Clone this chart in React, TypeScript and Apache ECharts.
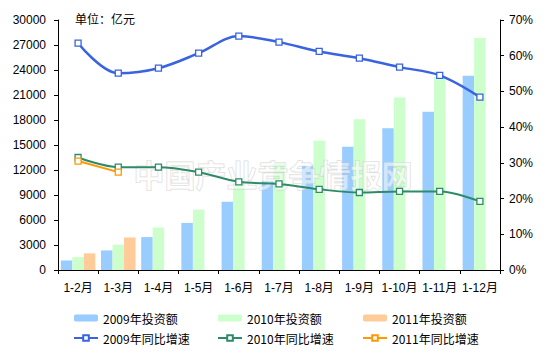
import React, { useEffect, useRef } from "react";
import * as echarts from "echarts";

const categories = ["1-2月", "1-3月", "1-4月", "1-5月", "1-6月", "1-7月", "1-8月", "1-9月", "1-10月", "1-11月", "1-12月"];
const invest2009 = [1150, 2350, 3950, 5650, 8200, 10700, 12500, 14800, 17000, 19000, 23300];
const invest2010 = [1550, 3050, 5100, 7250, 10400, 12800, 15500, 18100, 20700, 23200, 27850];
const invest2011: (number | null)[] = [2000, 3900, null, null, null, null, null, null, null, null, null];
const growth2009 = [63.5, 55.1, 56.5, 60.7, 65.5, 63.8, 61.2, 59.3, 56.8, 54.5, 48.4];
const growth2010 = [31.5, 28.8, 28.8, 27.4, 24.7, 24.1, 22.6, 21.7, 22.0, 22.0, 19.2];
const growth2011: (number | null)[] = [30.5, 27.4, null, null, null, null, null, null, null, null, null];
const leftTicks = { min: 0, max: 30000, interval: 3000 };
const rightTicks = { min: 0, max: 70, interval: 10 };

const FONT = "Liberation Sans, Arial, Noto Sans CJK SC, sans-serif";
const CJK = "Noto Sans CJK SC, sans-serif";

export default function App() {
  const ref = useRef<HTMLDivElement>(null);
  useEffect(() => {
    if (!ref.current) return;
    const chart = echarts.init(ref.current, undefined, { renderer: "svg" });
    const lineSeries = (name: string, data: (number | null)[], color: string, width: number) => ({
      name,
      type: "line",
      yAxisIndex: 1,
      data,
      smooth: 0.35,
      symbol: "rect",
      symbolSize: 6,
      showSymbol: true,
      z: 5,
      lineStyle: { color, width },
      itemStyle: { color: "#ffffff", borderColor: color, borderWidth: 1.3 },
    });
    const legendBase = {
      top: 312,
      orient: "vertical",
      padding: 0,
      itemGap: 8,
      itemWidth: 24,
      itemHeight: 7,
      textStyle: { fontSize: 12, color: "#000", fontFamily: CJK },
    };
    chart.setOption({
      animation: false,
      backgroundColor: "#ffffff",
      title: {
        text: "单位：亿元",
        left: 70,
        top: 7,
        textStyle: { fontSize: 12, fontWeight: "normal", color: "#000", fontFamily: CJK },
      },
      graphic: [
        {
          type: "text",
          left: 133,
          top: 157,
          z: 3,
          style: {
            text: "中国产业竞争情报网",
            fontSize: 31,
            fontWeight: "bold",
            fill: "rgba(255,255,255,0.55)",
            stroke: "rgba(190,190,190,0.55)",
            lineWidth: 1,
            fontFamily: CJK,
          },
        },
      ],
      legend: [
        { ...legendBase, left: 73, data: ["2009年投资额", "2009年同比增速"] },
        { ...legendBase, left: 217, data: ["2010年投资额", "2010年同比增速"] },
        { ...legendBase, left: 362, data: ["2011年投资额", "2011年同比增速"] },
      ],
      grid: { left: 58, right: 46, top: 20, bottom: 83 },
      xAxis: {
        type: "category",
        data: categories,
        boundaryGap: true,
        axisLine: { lineStyle: { color: "#000", width: 1 } },
        axisTick: { show: true, length: 4, lineStyle: { color: "#000" } },
        axisLabel: { color: "#000", fontSize: 12, fontFamily: FONT, margin: 12, interval: 0 },
      },
      yAxis: [
        {
          type: "value",
          ...leftTicks,
          position: "left",
          splitLine: { show: false },
          axisLine: { show: true, lineStyle: { color: "#000", width: 1 } },
          axisTick: { show: true, length: 4, lineStyle: { color: "#000" } },
          axisLabel: {
            color: "#000",
            fontSize: 12,
            fontFamily: FONT,
            margin: 12,
            formatter: (v: number) => String(v),
          },
        },
        {
          type: "value",
          ...rightTicks,
          position: "right",
          splitLine: { show: false },
          axisLine: { show: true, lineStyle: { color: "#000", width: 1 } },
          axisTick: { show: true, length: 4, lineStyle: { color: "#000" } },
          axisLabel: { color: "#000", fontSize: 12, fontFamily: FONT, margin: 9, formatter: "{value}%" },
        },
      ],
      series: [
        { name: "2009年投资额", type: "bar", data: invest2009, barWidth: 11.5, barGap: "0%", itemStyle: { color: "#99CCFF" }, z: 2 },
        { name: "2010年投资额", type: "bar", data: invest2010, barWidth: 11.5, barGap: "0%", itemStyle: { color: "#CCFFCC" }, z: 2 },
        { name: "2011年投资额", type: "bar", data: invest2011, barWidth: 11.5, barGap: "0%", itemStyle: { color: "#FFCC99" }, z: 2 },
        lineSeries("2009年同比增速", growth2009, "#3A63E0", 2.5),
        lineSeries("2010年同比增速", growth2010, "#2E8B68", 2),
        lineSeries("2011年同比增速", growth2011, "#FF9900", 2),
      ],
    });
    return () => chart.dispose();
  }, []);
  return <div ref={ref} style={{ width: 546, height: 353, position: "absolute", left: 0, top: 0 }} />;
}
